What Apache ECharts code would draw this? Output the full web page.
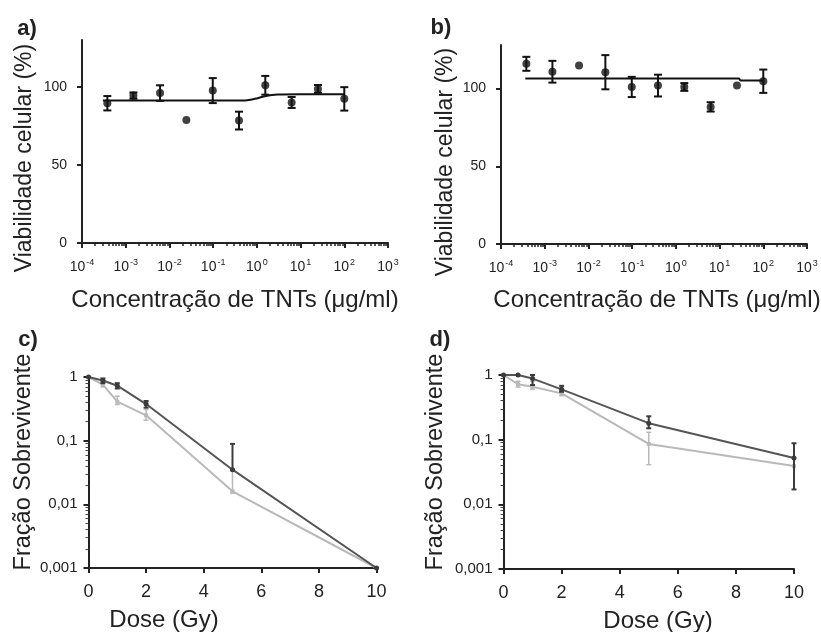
<!DOCTYPE html>
<html><head><meta charset="utf-8">
<script src="https://cdn.jsdelivr.net/npm/echarts@6/dist/echarts.min.js"></script>
<style>html,body{margin:0;padding:0;background:#fff}#c{width:821px;height:632px}</style>
</head><body><div id="c"></div>
<script>
// ---- data ----
const concentrations = [0.00038, 0.0015, 0.0061, 0.0244, 0.098, 0.39, 1.56, 6.25, 25, 100];
const viabA = [89.5, 94.4, 96, 78.8, 97.6, 78.4, 101, 90, 98.7, 92.3];
const errA  = [4.6, 2, 5, 0, 8, 5.7, 6, 3.5, 2.5, 7.5];
const fitAConc = [0.0003, 0.3, 0.6, 1.0, 1.6, 3, 10, 100];
const fitAVal  = [91.2, 91.2, 91.4, 92.6, 94.2, 95.1, 95.3, 95.3];

const viabB = [115.9, 110.8, 114.8, 110.5, 101, 101.9, 101, 88.2, 101.9, 104.7];
const errB  = [4.5, 7, 0, 11, 6.5, 7, 2.5, 3, 0, 7.5];
const fitBConc = [0.00036, 28, 30, 100];
const fitBVal  = [106.5, 106.5, 105.2, 105.2];

const doseC = [0, 0.5, 1, 2, 5, 10];
const sfCDark  = [1, 0.88, 0.73, 0.376, 0.035, 0.001];
const sfCLight = [1, 0.76, 0.41, 0.25, 0.016, 0.001];
const errCDark  = [null, [0.80, 0.95], [0.66, 0.80], [0.33, 0.42], [0.035, 0.089], null];
const errCLight = [null, [0.70, 0.83], [0.37, 0.50], [0.21, 0.31], [0.015, 0.035], null];

const doseD = [0, 0.5, 1, 2, 5, 10];
const sfDDark  = [1, 1.0, 0.88, 0.6, 0.18, 0.052];
const sfDLight = [1, 0.72, 0.66, 0.52, 0.086, 0.039];
const errDDark  = [null, null, [0.70, 1.0], [0.55, 0.68], [0.15, 0.23], [0.017, 0.088]];
const errDLight = [null, [0.65, 0.80], [0.60, 0.80], [0.48, 0.58], [0.041, 0.13], null];

const yTicksAB = [0, 50, 100];
const logLabelsCD = {'0.001': '0,001', '0.01': '0,01', '0.1': '0,1', '1': '1'};
const xTicksCD = [0, 2, 4, 6, 8, 10];

// ---- helpers ----
const FONT = '"Liberation Sans", Arial, Helvetica, sans-serif';
const INK = '#222';
function zip(a, b) { return a.map((v, i) => [v, b[i]]); }
function errData(xs, ys, es) {
  const out = [];
  xs.forEach((x, i) => { if (es[i] > 0) out.push([x, ys[i] - es[i], ys[i] + es[i]]); });
  return out;
}
function errDataRange(xs, ranges) {
  const out = [];
  xs.forEach((x, i) => { if (ranges[i]) out.push([x, ranges[i][0], ranges[i][1]]); });
  return out;
}
function errRender(color, capW, lw) {
  return function (params, api) {
    const x = api.value(0), lo = api.value(1), hi = api.value(2);
    const a = api.coord([x, lo]), b = api.coord([x, hi]);
    const st = { stroke: color, lineWidth: lw };
    return { type: 'group', children: [
      { type: 'line', shape: { x1: a[0], y1: a[1], x2: b[0], y2: b[1] }, style: st },
      { type: 'line', shape: { x1: a[0] - capW, y1: a[1], x2: a[0] + capW, y2: a[1] }, style: st },
      { type: 'line', shape: { x1: b[0] - capW, y1: b[1], x2: b[0] + capW, y2: b[1] }, style: st }
    ]};
  };
}
const axisLine = { lineStyle: { color: INK, width: 2 } };
function logXAxis(grid) {
  return {
    gridIndex: grid, type: 'log', logBase: 10, min: 1e-4, max: 1e3, splitNumber: 7,
    axisLine: axisLine,
    axisTick: { length: 5, lineStyle: { color: INK, width: 2 } },
    minorTick: { show: true, splitNumber: 9, length: 3, lineStyle: { color: INK, width: 1.5 } },
    splitLine: { show: false }, minorSplitLine: { show: false },
    axisLabel: {
      margin: 15,
      formatter: function (v) { return '{b|10}{s|' + Math.round(Math.log10(v)) + '}'; },
      rich: {
        b: { fontFamily: FONT, fontSize: 14, color: INK, lineHeight: 18 },
        s: { fontFamily: FONT, fontSize: 9, color: INK, lineHeight: 18, verticalAlign: 'top', padding: [0, 0, 0, 1] }
      }
    }
  };
}
function viabYAxis(grid, max) {
  return {
    gridIndex: grid, type: 'value', min: 0, max: max,
    axisLine: { show: true, lineStyle: { color: INK, width: 2 } },
    axisTick: { show: true, length: 5, customValues: yTicksAB, lineStyle: { color: INK, width: 2 } },
    splitLine: { show: false },
    axisLabel: { customValues: yTicksAB, margin: 15, fontFamily: FONT, fontSize: 14, color: INK }
  };
}
function doseXAxis(grid) {
  return {
    gridIndex: grid, type: 'value', min: 0, max: 10, interval: 2,
    axisLine: axisLine,
    axisTick: { length: 5, lineStyle: { color: INK, width: 2 } },
    splitLine: { show: false },
    axisLabel: { margin: 15, fontFamily: FONT, fontSize: 18, color: INK }
  };
}
function sfYAxis(grid) {
  return {
    gridIndex: grid, type: 'log', logBase: 10, min: 0.001, max: 1,
    axisLine: { show: true, lineStyle: { color: INK, width: 2 } },
    axisTick: { show: true, length: 5, lineStyle: { color: INK, width: 2 } },
    minorTick: { show: true, splitNumber: 9, length: 3, lineStyle: { color: '#444', width: 1 } },
    splitLine: { show: false }, minorSplitLine: { show: false },
    axisLabel: {
      margin: 11, fontFamily: FONT, fontSize: 15, color: INK,
      formatter: function (v) { return logLabelsCD[String(+v.toPrecision(3))] || ''; }
    }
  };
}
function title(text, x, y, size, rot, bold) {
  return {
    type: 'text', x: x, y: y, rotation: rot ? Math.PI / 2 : 0,
    style: { text: text, font: (bold ? 'bold ' : '') + size + 'px ' + FONT, fill: INK,
             textAlign: 'center', textVerticalAlign: 'middle' }
  };
}

const chart = echarts.init(document.getElementById('c'));
const DARK = '#3c3c3c', LIGHT = '#b9b9b9';

chart.setOption({
  animation: false,
  backgroundColor: '#fff',
  grid: [
    { left: 82, top: 40, width: 306, height: 203 },
    { left: 501, top: 45, width: 306, height: 199 },
    { left: 88.5, top: 377, width: 288, height: 191 },
    { left: 503.5, top: 375, width: 290.5, height: 194 }
  ],
  xAxis: [logXAxis(0), logXAxis(1), doseXAxis(2), doseXAxis(3)],
  yAxis: [viabYAxis(0, 130), viabYAxis(1, 128), sfYAxis(2), sfYAxis(3)],
  graphic: [
    title('a)', 27, 29, 22, false, true),
    title('b)', 441, 28, 22, false, true),
    title('c)', 28, 340, 22, false, true),
    title('d)', 440, 340, 22, false, true),
    title('Viabilidade celular (%)', 25, 158, 23, true),
    title('Viabilidade celular (%)', 446, 162, 23, true),
    title('Concentração de TNTs (μg/ml)', 235, 300, 24),
    title('Concentração de TNTs (μg/ml)', 657, 300, 24),
    title('Fração Sobrevivente', 24, 462, 23.5, true),
    title('Fração Sobrevivente', 436, 462, 23.5, true),
    title('Dose (Gy)', 164, 620, 24),
    title('Dose (Gy)', 658, 621, 24)
  ],
  series: [
    // panel a
    { type: 'line', xAxisIndex: 0, yAxisIndex: 0, data: zip(fitAConc, fitAVal), smooth: 0.3,
      showSymbol: false, symbol: 'none', lineStyle: { color: '#111', width: 2 }, z: 2 },
    { type: 'custom', xAxisIndex: 0, yAxisIndex: 0, data: errData(concentrations, viabA, errA),
      renderItem: errRender('#111', 4, 2), z: 3 },
    { type: 'scatter', xAxisIndex: 0, yAxisIndex: 0, data: zip(concentrations, viabA),
      symbol: 'circle', symbolSize: 8, itemStyle: { color: '#111' }, z: 4 },
    // panel b
    { type: 'line', xAxisIndex: 1, yAxisIndex: 1, data: zip(fitBConc, fitBVal),
      showSymbol: false, symbol: 'none', lineStyle: { color: '#111', width: 2 }, z: 2 },
    { type: 'custom', xAxisIndex: 1, yAxisIndex: 1, data: errData(concentrations, viabB, errB),
      renderItem: errRender('#111', 4, 2), z: 3 },
    { type: 'scatter', xAxisIndex: 1, yAxisIndex: 1, data: zip(concentrations, viabB),
      symbol: 'circle', symbolSize: 8, itemStyle: { color: '#111' }, z: 4 },
    // panel c
    { type: 'line', xAxisIndex: 2, yAxisIndex: 2, data: zip(doseC, sfCLight),
      symbol: 'rect', symbolSize: 4, itemStyle: { color: LIGHT }, lineStyle: { color: LIGHT, width: 2 }, z: 2 },
    { type: 'custom', xAxisIndex: 2, yAxisIndex: 2, data: errDataRange(doseC, errCLight),
      renderItem: errRender(LIGHT, 2.5, 1.5), z: 2 },
    { type: 'line', xAxisIndex: 2, yAxisIndex: 2, data: zip(doseC, sfCDark),
      symbol: 'circle', symbolSize: 5, itemStyle: { color: DARK }, lineStyle: { color: '#555', width: 2 }, z: 3 },
    { type: 'custom', xAxisIndex: 2, yAxisIndex: 2, data: errDataRange(doseC, errCDark),
      renderItem: errRender(DARK, 2.5, 2), z: 3 },
    // panel d
    { type: 'line', xAxisIndex: 3, yAxisIndex: 3, data: zip(doseD, sfDLight),
      symbol: 'rect', symbolSize: 4, itemStyle: { color: LIGHT }, lineStyle: { color: LIGHT, width: 2 }, z: 2 },
    { type: 'custom', xAxisIndex: 3, yAxisIndex: 3, data: errDataRange(doseD, errDLight),
      renderItem: errRender(LIGHT, 2.5, 1.5), z: 2 },
    { type: 'line', xAxisIndex: 3, yAxisIndex: 3, data: zip(doseD, sfDDark),
      symbol: 'circle', symbolSize: 5, itemStyle: { color: DARK }, lineStyle: { color: '#555', width: 2 }, z: 3 },
    { type: 'custom', xAxisIndex: 3, yAxisIndex: 3, data: errDataRange(doseD, errDDark),
      renderItem: errRender(DARK, 2.5, 2), z: 3 }
  ]
});
</script>
</body></html>
